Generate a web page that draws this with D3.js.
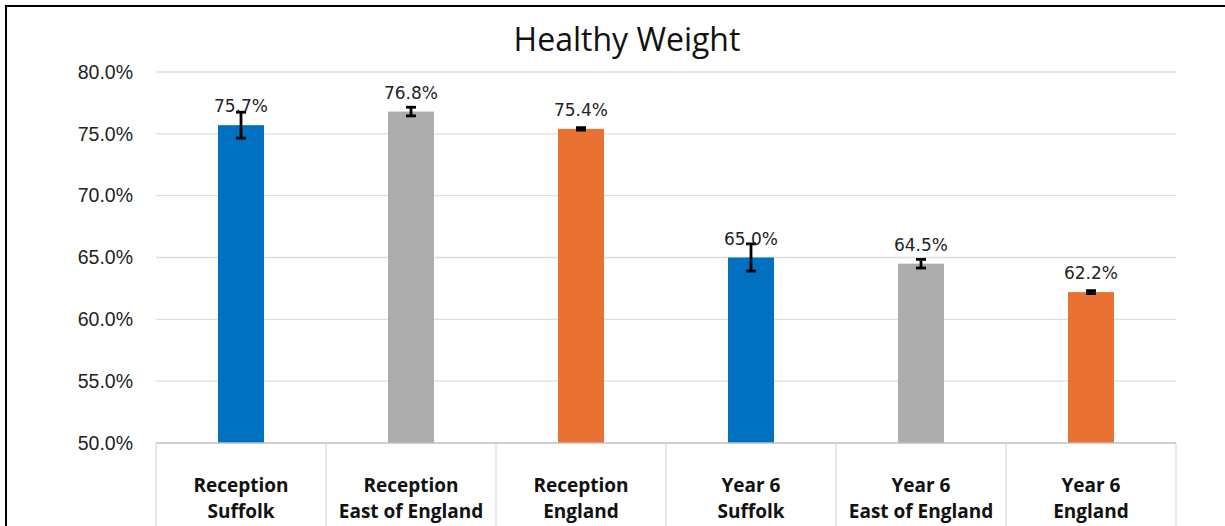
<!DOCTYPE html>
<html>
<head>
<meta charset="utf-8">
<script src="https://cdn.jsdelivr.net/npm/d3@7"></script>
<style>
  html, body { margin: 0; padding: 0; background: #fff; overflow: hidden; }
  svg { display: block; }
</style>
</head>
<body>
<svg id="chart" width="1225" height="526"></svg>
<script>
// ---- data ----
const categoryLine1 = ["Reception", "Reception", "Reception", "Year 6", "Year 6", "Year 6"];
const categoryLine2 = ["Suffolk", "East of England", "England", "Suffolk", "East of England", "England"];
const values = [75.7, 76.8, 75.4, 65.0, 64.5, 62.2];
const errors = [1.05, 0.35, 0.1, 1.1, 0.35, 0.12];
const barColors = ["#0070C0", "#ADADAD", "#E97132", "#0070C0", "#ADADAD", "#E97132"];
const yTicks = [50, 55, 60, 65, 70, 75, 80];
const title = "Healthy Weight";

// ---- layout ----
const svg = d3.select("#chart");
const plotLeft = 156, plotRight = 1176, plotTop = 72, plotBottom = 443;

const ids = d3.range(values.length);
const x = d3.scaleBand().domain(ids).range([plotLeft, plotRight]).paddingInner(0).paddingOuter(0);
const y = d3.scaleLinear().domain([50, 80]).range([plotBottom, plotTop]);
const barW = 46;

// outer frame
svg.append("rect").attr("x", 6).attr("y", 6).attr("width", 1300).attr("height", 600)
  .attr("fill", "none").attr("stroke", "#000").attr("stroke-width", 2);

// gridlines
svg.append("g").selectAll("line").data(yTicks.filter(d => d !== 50)).join("line")
  .attr("x1", plotLeft).attr("x2", plotRight)
  .attr("y1", d => y(d)).attr("y2", d => y(d))
  .attr("stroke", "#DEDEDE").attr("stroke-width", 1.3);

// y tick labels
const yAxis = d3.axisLeft(y).tickValues(yTicks).tickSize(0).tickPadding(23)
  .tickFormat(d => d.toFixed(1) + "%");
const gy = svg.append("g").attr("transform", `translate(${plotLeft},0)`).call(yAxis);
gy.select(".domain").remove();
gy.selectAll("text").attr("font-family", "'Liberation Sans', Arial, sans-serif")
  .attr("font-size", 19.5).attr("fill", "#222");

// bars
svg.append("g").selectAll("rect").data(ids).join("rect")
  .attr("x", i => x(i) + x.bandwidth() / 2 - barW / 2)
  .attr("width", barW)
  .attr("y", i => y(values[i]))
  .attr("height", i => y(50) - y(values[i]))
  .attr("fill", i => barColors[i]);

// category table lines
const gx = svg.append("g");
gx.append("line").attr("x1", plotLeft).attr("x2", plotRight).attr("y1", plotBottom).attr("y2", plotBottom)
  .attr("stroke", "#BFBFBF").attr("stroke-width", 1.5);
gx.selectAll("line.sep").data(d3.range(values.length + 1)).join("line").attr("class", "sep")
  .attr("x1", i => plotLeft + i * x.bandwidth()).attr("x2", i => plotLeft + i * x.bandwidth())
  .attr("y1", plotBottom).attr("y2", 530)
  .attr("stroke", "#DADADA").attr("stroke-width", 1.3);

// category labels
const lbl = gx.selectAll("text.cat").data(ids).join("text").attr("class", "cat")
  .attr("text-anchor", "middle")
  .attr("font-family", "'Open Sans', 'Noto Sans', sans-serif")
  .attr("font-weight", "bold").attr("font-size", 19).attr("fill", "#111");
lbl.append("tspan").attr("x", i => x(i) + x.bandwidth() / 2).attr("y", 492).text(i => categoryLine1[i]);
lbl.append("tspan").attr("x", i => x(i) + x.bandwidth() / 2).attr("y", 518).text(i => categoryLine2[i]);

// error bars
const eb = svg.append("g").attr("stroke", "#000").attr("stroke-width", 2.8);
eb.selectAll("line.v").data(ids).join("line").attr("class", "v")
  .attr("x1", i => x(i) + x.bandwidth() / 2).attr("x2", i => x(i) + x.bandwidth() / 2)
  .attr("y1", i => y(values[i] + errors[i])).attr("y2", i => y(values[i] - errors[i]));
eb.selectAll("line.t").data(ids).join("line").attr("class", "t")
  .attr("x1", i => x(i) + x.bandwidth() / 2 - 5).attr("x2", i => x(i) + x.bandwidth() / 2 + 5)
  .attr("y1", i => y(values[i] + errors[i])).attr("y2", i => y(values[i] + errors[i]));
eb.selectAll("line.b").data(ids).join("line").attr("class", "b")
  .attr("x1", i => x(i) + x.bandwidth() / 2 - 5).attr("x2", i => x(i) + x.bandwidth() / 2 + 5)
  .attr("y1", i => y(values[i] - errors[i])).attr("y2", i => y(values[i] - errors[i]));

// data labels
svg.append("g").selectAll("text").data(ids).join("text")
  .attr("x", i => x(i) + x.bandwidth() / 2)
  .attr("y", i => y(values[i]) - 13)
  .attr("text-anchor", "middle")
  .attr("font-family", "'DejaVu Sans', Verdana, sans-serif")
  .attr("font-size", 17).attr("fill", "#222")
  .text(i => values[i].toFixed(1) + "%");

// title
svg.append("text").attr("x", 627).attr("y", 51).attr("text-anchor", "middle")
  .attr("font-family", "'Open Sans', 'Noto Sans', sans-serif")
  .attr("font-size", 32).attr("fill", "#111").text(title);
</script>
</body>
</html>
